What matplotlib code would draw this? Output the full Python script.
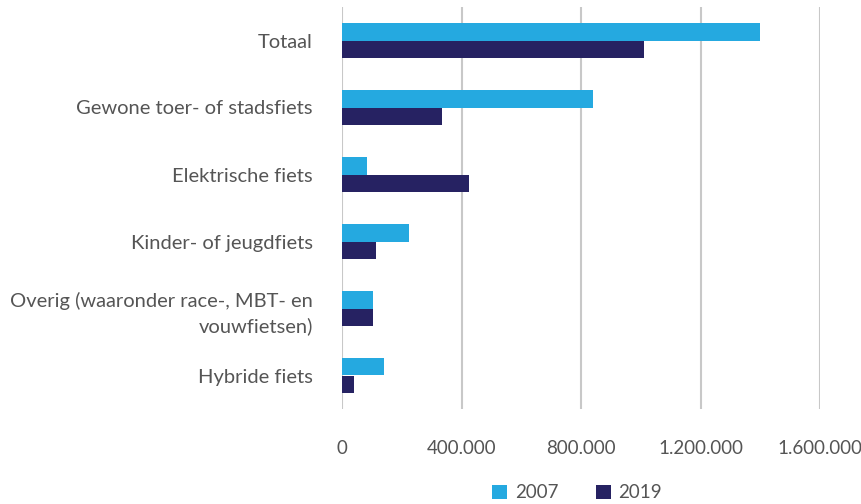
import matplotlib
matplotlib.use("Agg")
import matplotlib.pyplot as plt
import numpy as np
from matplotlib.ticker import FuncFormatter

categories = ["Totaal", "Gewone toer- of stadsfiets", "Elektrische fiets",
              "Kinder- of jeugdfiets", "Overig (waaronder race-, MBT- en\nvouwfietsen)",
              "Hybride fiets"]
values_2007 = [1400000, 840000, 85000, 224000, 103000, 140000]
values_2019 = [1010000, 335000, 426000, 115000, 103000, 41000]
series_labels = ["2007", "2019"]
xticks = [0, 400000, 800000, 1200000, 1600000]

plt.rcParams['font.family'] = ['Lato', 'DejaVu Sans']
txt = '#555555'

fig = plt.figure(figsize=(8.61, 5.04), dpi=100)
ax = fig.add_axes([342/861, 1-409/504, (820-342)/861, (409-7)/504])

y = np.arange(len(categories))
h = 0.255
ax.barh(y - h/2, values_2007, height=h, color='#25A9E0', label=series_labels[0], zorder=3)
ax.barh(y + h/2, values_2019, height=h, color='#262262', label=series_labels[1], zorder=3)

ax.set_ylim(len(categories) - 0.5, -0.5)
ax.set_xlim(0, 1600000)
ax.set_xticks(xticks)
ax.xaxis.set_major_formatter(FuncFormatter(lambda v, p: f"{int(v):,}".replace(",", ".")))
ax.set_yticks(y)
ax.set_yticklabels(categories, ha='right', multialignment='right', linespacing=1.45)
ax.tick_params(axis='y', length=0, pad=21, labelsize=14.5, labelcolor=txt)
ax.tick_params(axis='x', length=0, pad=22, labelsize=13.5, labelcolor=txt)
for s in ax.spines.values():
    s.set_visible(False)
ax.grid(axis='x', color='#c8c8c8', linewidth=1.5, zorder=0)
ax.set_axisbelow(True)

leg = fig.legend(loc='center', bbox_to_anchor=(577/861, 1-493/504), ncol=2, frameon=False,
                 fontsize=13.5, handlelength=0.8, handleheight=0.8, columnspacing=2.0,
                 handletextpad=0.4, labelcolor=txt)

fig.savefig("out.png", dpi=100)
